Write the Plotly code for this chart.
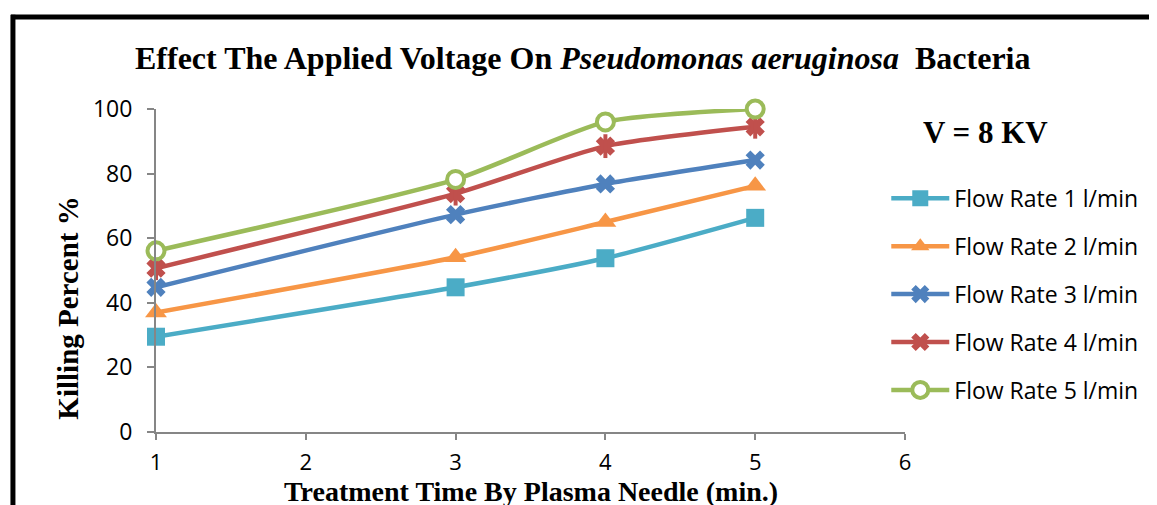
import plotly.graph_objects as go

times = [1, 3, 4, 5]
series_names = ["Flow Rate 1 l/min", "Flow Rate 2 l/min", "Flow Rate 3 l/min",
                "Flow Rate 4 l/min", "Flow Rate 5 l/min"]
flow1 = [29.5, 44.8, 53.8, 66.3]
flow2 = [37.0, 54.1, 65.0, 76.2]
flow3 = [44.8, 67.3, 76.8, 84.2]
flow4 = [50.7, 73.8, 88.5, 94.5]
flow5 = [56.1, 78.2, 96.0, 100.0]
x_ticks = [1, 2, 3, 4, 5, 6]
y_ticks = [0, 20, 40, 60, 80, 100]

colors = ["#4BACC6", "#F79646", "#4F81BD", "#C0504D", "#9BBB59"]
values = [flow1, flow2, flow3, flow4, flow5]
markers = [
    dict(symbol="square", size=18),
    dict(symbol="triangle-up", size=19),
    dict(symbol="x", size=17),
    dict(symbol="x", size=17),
    dict(symbol="circle", size=17),
]

fig = go.Figure()
for i, (name, vals) in enumerate(zip(series_names, values)):
    m = dict(markers[i])
    if i == 4:
        m.update(color="white", line=dict(color=colors[i], width=4))
    else:
        m.update(color=colors[i], line=dict(width=0))
    fig.add_trace(go.Scatter(
        x=times, y=vals, name=name, mode="lines+markers",
        line=dict(color=colors[i], width=4.5, shape="spline", smoothing=0.6),
        marker=m, cliponaxis=False, legendgroup=f"g{i}",
    ))
    if i == 3:
        # vertical bar of Excel's "star" marker
        fig.add_trace(go.Scatter(
            x=times, y=vals, mode="markers", showlegend=False, hoverinfo="skip",
            marker=dict(symbol="line-ns-open", size=17, color=colors[i],
                        line=dict(color=colors[i], width=4)),
            cliponaxis=False, legendgroup=f"g{i}",
        ))

serif = "Liberation Serif"
sans = "Open Sans"

fig.update_layout(
    width=1157, height=505,
    margin=dict(l=148, r=260, t=101, b=81),
    paper_bgcolor="white", plot_bgcolor="white",
    showlegend=True,
    legend=dict(
        x=0.975, xanchor="left", y=0.79, yanchor="top",
        font=dict(family=sans, size=23, color="black"),
        tracegroupgap=15, itemwidth=58,
        bgcolor="rgba(0,0,0,0)",
    ),
    xaxis=dict(
        range=[1, 6], tickvals=x_ticks, showgrid=False, zeroline=False,
        showline=True, linecolor="#868686", linewidth=2,
        ticks="outside", ticklen=6, tickcolor="#868686", tickwidth=2,
        ticklabelstandoff=4,
        tickfont=dict(family=sans, size=22, color="black"),
    ),
    yaxis=dict(
        range=[0, 100], tickvals=y_ticks, showgrid=False, zeroline=False,
        showline=True, linecolor="#868686", linewidth=2,
        ticks="outside", ticklen=7, tickcolor="#868686", tickwidth=2,
        ticklabelstandoff=10,
        tickfont=dict(family=sans, size=23, color="black"),
    ),
    annotations=[
        dict(text="<b>Effect The Applied Voltage On <i>Pseudomonas aeruginosa</i>  Bacteria</b>",
             xref="paper", yref="paper", x=0.569, y=1.158, xanchor="center", yanchor="middle",
             showarrow=False, font=dict(family=serif, size=32, color="black")),
        dict(text="<b>V = 8 KV</b>", xref="paper", yref="paper", x=1.107, y=0.926,
             xanchor="center", yanchor="middle", showarrow=False,
             font=dict(family=serif, size=31, color="black")),
        dict(text="<b>Killing Percent %</b>", xref="paper", yref="paper", x=-0.1175, y=0.385,
             xanchor="center", yanchor="middle", textangle=-90, showarrow=False,
             font=dict(family=serif, size=29, color="black")),
        dict(text="<b>Treatment Time By Plasma Needle (min.)</b>", xref="paper", yref="paper",
             x=0.5, y=-0.183, xanchor="center", yanchor="middle", showarrow=False,
             font=dict(family=serif, size=28, color="black")),
    ],
    shapes=[
        dict(type="line", xref="paper", yref="paper", x0=-0.1936, x1=1.4, y0=1.2848, y1=1.2848,
             line=dict(color="black", width=5)),
        dict(type="line", xref="paper", yref="paper", x0=-0.1910, x1=-0.1910, y0=1.292, y1=-0.3,
             line=dict(color="black", width=5)),
    ],
)

fig.write_html("out.html")
